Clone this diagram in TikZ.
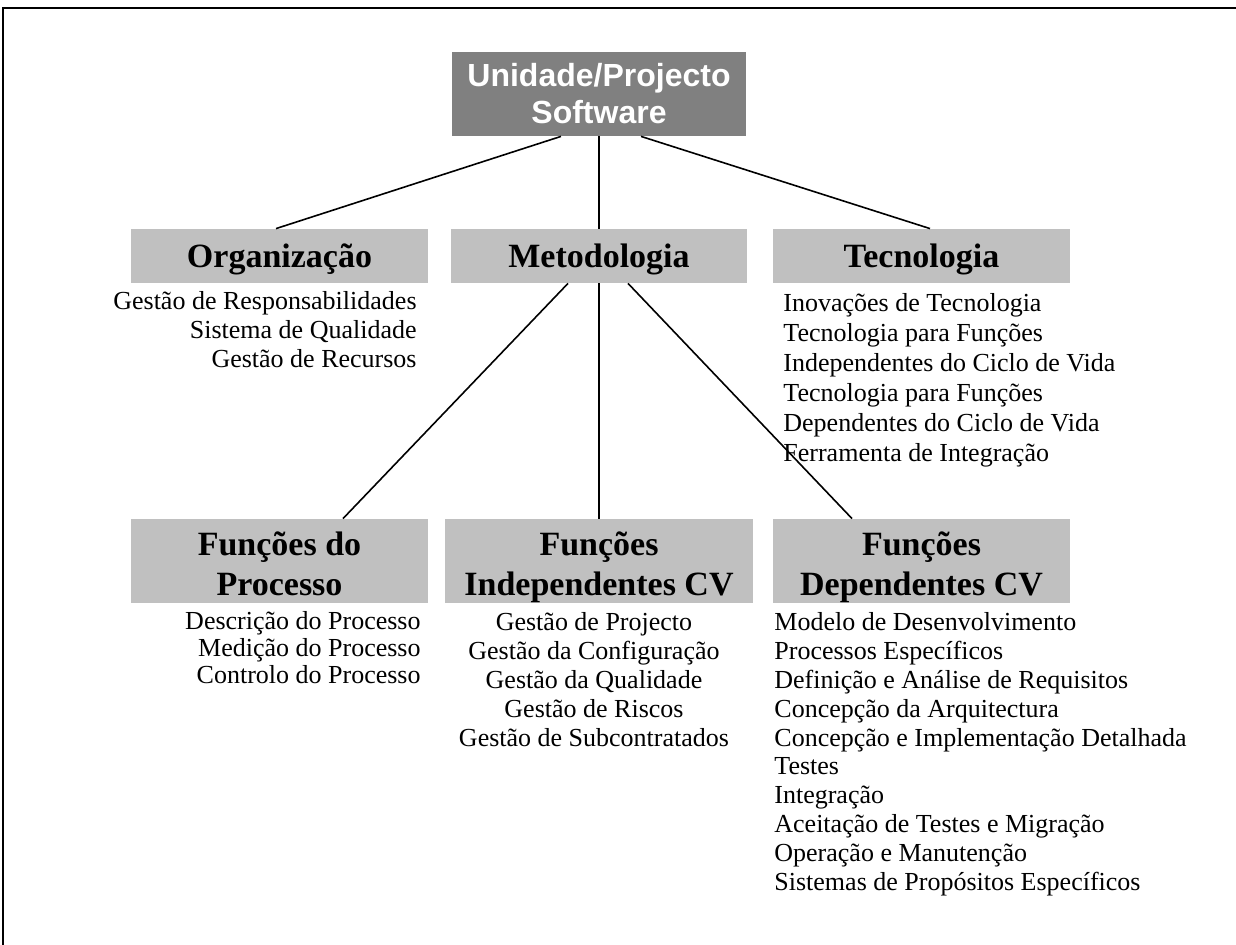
\documentclass[tikz,border=0pt]{standalone}
\usepackage{fontspec}
\setmainfont{Liberation Serif}
\newfontfamily\headfont{Liberation Sans}
\usetikzlibrary{calc}
\definecolor{darkbox}{HTML}{808080}
\definecolor{lightbox}{HTML}{C0C0C0}
\tikzstyle{frame}=[line width=1pt]
\tikzstyle{link}=[line width=0.8pt]
\tikzstyle{topbox}=[fill=darkbox, text=white, inner sep=0, minimum width=147pt, minimum height=42pt,
  align=center, font=\headfont\bfseries\fontsize{16}{18.5}\selectfont]
\tikzstyle{midbox}=[fill=lightbox, inner sep=0, minimum width=148.5pt, minimum height=27pt,
  text height=12pt, text depth=0pt, font=\bfseries\fontsize{17}{20}\selectfont]
\tikzstyle{lowbox}=[fill=lightbox, inner sep=0, minimum height=42pt]
\tikzstyle{lowtitle}=[inner sep=0, anchor=base, font=\bfseries\fontsize{17}{20}\selectfont]
\tikzstyle{items}=[inner sep=0, font=\fontsize{13}{14.5}\selectfont]
\newcommand{\lowlevel}[5]{
  \node[lowbox, minimum width=#3] (#1) at (#2, 561) {};
  \begin{scope}
    \clip (#1.south west) rectangle (#1.north east);
    \node[lowtitle] (#1title) at (#2, 556) {\begin{tabular}[t]{@{}c@{}}#4\\#5\end{tabular}};
  \end{scope}
}

\begin{document}
\begin{tikzpicture}[x=0.5pt, y=-0.5pt]
    \useasboundingbox (0, 0) rectangle (1236, 945);
    \draw[frame] (3, 945) -- (3, 8) -- (1236, 8);
    % top
    \node[topbox] (unidade) at (599, 94) {Unidade/Projecto\\Software};
    % second level
    \node[midbox] (organiz) at (279.5, 256) {Organização};
    \node[midbox, minimum width=148pt] (metod) at (599, 256) {Metodologia};
    \node[midbox] (tecnol) at (921.5, 256) {Tecnologia};
    \draw[link] ($(unidade.south)+(-38, 0)$) -- ($(organiz.north)+(-3.5, 0)$);
    \draw[link] (unidade.south) -- (metod.north);
    \draw[link] ($(unidade.south)+(42, 0)$) -- ($(tecnol.north)+(8.5, 0)$);
    % third level
    \lowlevel{procs}{279.5}{148.5pt}{Funções do}{Processo}
    \lowlevel{indep}{599}{154pt}{Funções}{Independentes CV}
    \lowlevel{depend}{921.5}{148.5pt}{Funções}{Dependentes CV}
    \draw[link] ($(metod.south)+(-31, 0)$) -- ($(procs.north)+(63.5, 0)$);
    \draw[link] (metod.south) -- (indep.north);
    \draw[link] ($(metod.south)+(29, 0)$) -- ($(depend.north)+(-69.5, 0)$);
    % lists
    \node[items, anchor=base east] (orglist) at (417, 310) {\begin{tabular}[t]{@{}r@{}}
      Gestão de Responsabilidades\\ Sistema de Qualidade\\ Gestão de Recursos\end{tabular}};
    \node[items, anchor=base west, font=\fontsize{13}{15}\selectfont] (teclist) at (783, 312) {\begin{tabular}[t]{@{}l@{}}
      Inovações de Tecnologia\\ Tecnologia para Funções\\ Independentes do Ciclo de Vida\\
      Tecnologia para Funções\\ Dependentes do Ciclo de Vida\\ Ferramenta de Integração\end{tabular}};
    \node[items, anchor=base east, font=\fontsize{13}{13.5}\selectfont] (proclist) at (421, 630) {\begin{tabular}[t]{@{}r@{}}
      Descrição do Processo\\ Medição do Processo\\ Controlo do Processo\end{tabular}};
    \node[items, anchor=base] (indlist) at (594, 631) {\begin{tabular}[t]{@{}c@{}}
      Gestão de Projecto\\ Gestão da Configuração\\ Gestão da Qualidade\\
      Gestão de Riscos\\ Gestão de Subcontratados\end{tabular}};
    \node[items, anchor=base west, font=\fontsize{13}{14.4}\selectfont] (deplist) at (774, 631) {\begin{tabular}[t]{@{}l@{}}
      Modelo de Desenvolvimento\\ Processos Específicos\\ Definição e Análise de Requisitos\\
      Concepção da Arquitectura\\ Concepção e Implementação Detalhada\\ Testes\\ Integração\\
      Aceitação de Testes e Migração\\ Operação e Manutenção\\ Sistemas de Propósitos Específicos\end{tabular}};
\end{tikzpicture}
\end{document}
